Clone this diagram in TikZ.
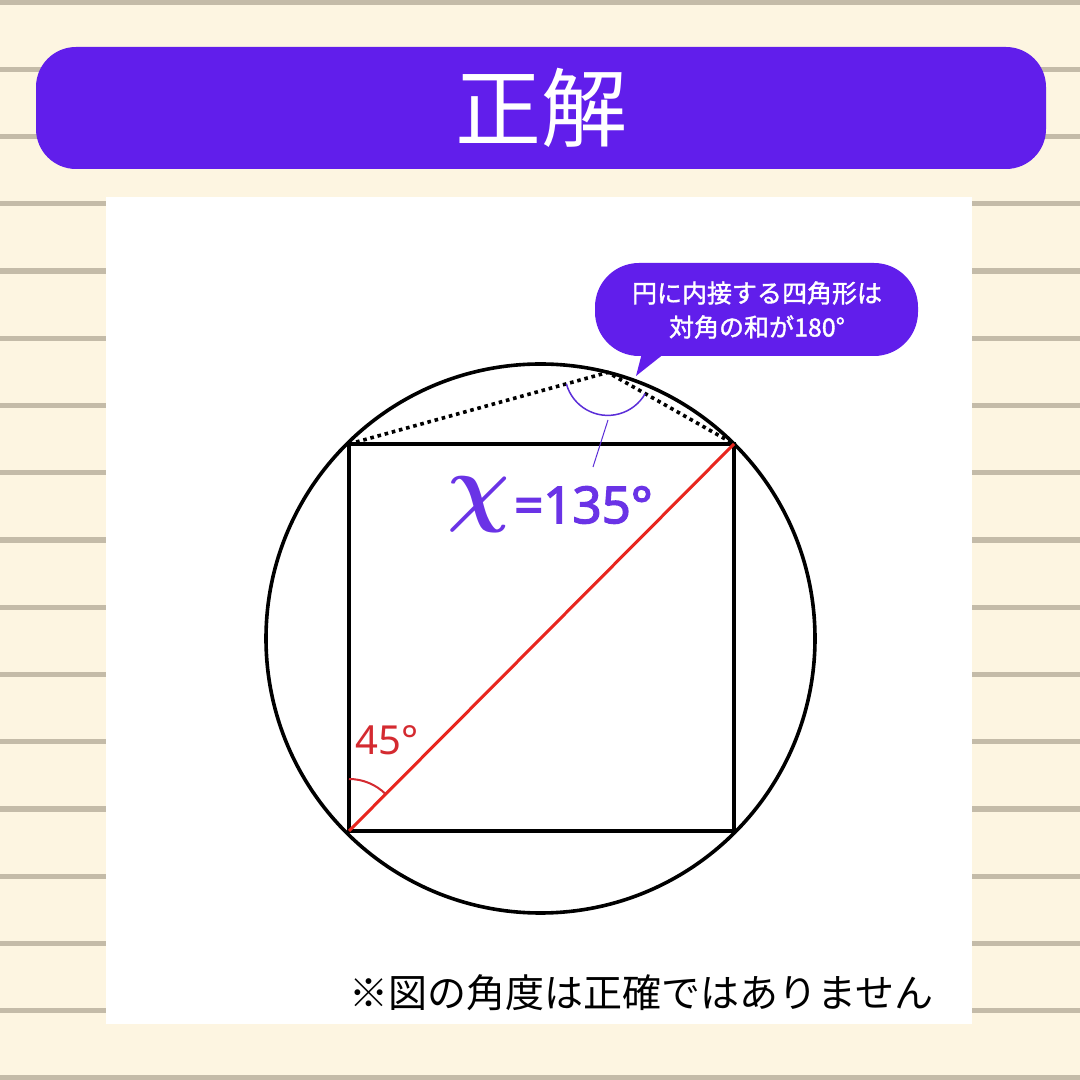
\documentclass[tikz,border=0pt]{standalone}
\usepackage{fontspec}
\newfontfamily\jp{Noto Sans CJK JP}
\newfontfamily\jpm[FakeBold=1.5]{Noto Sans CJK JP}
\newfontfamily\ns{Noto Sans}
\newfontfamily\nsb[FakeBold=2.5]{Noto Sans}
\definecolor{cream}{HTML}{FDF5E1}
\definecolor{stripe}{HTML}{C4BBA8}
\definecolor{banner}{HTML}{611EEB}
\definecolor{xpurple}{HTML}{6A33E6}
\definecolor{markpurple}{HTML}{5B2ED8}
\definecolor{redline}{HTML}{E8261E}
\definecolor{redmark}{HTML}{D42A30}
\newcommand{\chisym}{\scalebox{3.5}{\fontsize{24.88}{28}\selectfont\boldmath$\chi$}}
\tikzset{
  edge/.style={line width=3.6pt, black},
  dotline/.style={line width=3.6pt, black, dash pattern=on 3.6pt off 3.8pt},
  bubbletext/.style={text=white, font=\jpm\fontsize{25}{28}\selectfont, inner sep=0pt},
  chistyle/.style={text=xpurple, inner sep=0pt},
}
\begin{document}
\begin{tikzpicture}[x=1pt,y=1pt]
\useasboundingbox (0,0) rectangle (1080,1080);
\fill[cream] (0,0) rectangle (1080,1080);
\foreach \k in {0,...,16}{
  \fill[stripe] (0,{1078-67.25*\k-2.6}) rectangle (1080,{1078-67.25*\k+2.6});
}
% white panel
\fill[white] (106,56) rectangle (972,883);
% title banner
\fill[banner, rounded corners=40pt] (36,911) rectangle (1046,1033);
\node[text=white, font=\jp\fontsize{86}{90}\selectfont, inner sep=0pt] (title) at (541,972) {正解};
% geometry
\coordinate (O) at (540.5,441.5);
\coordinate (A) at (349,249);
\coordinate (B) at (734,249);
\coordinate (C) at (734,636);
\coordinate (D) at (349,636);
\coordinate (P) at (607.8,707.6);
\draw[edge] (O) circle[radius=274.5];
\draw[edge, line join=miter] (A) -- (B) -- (C) -- (D) -- cycle;
\draw[dotline] (D) -- (P) -- (C);
\draw[redline, line width=3pt] (A) -- (C);
% 45 degree mark
\draw[redmark, line width=2pt] ([shift={(90:52)}]A) arc[start angle=90, end angle=45, radius=52];
\node[text=redmark, font=\ns\fontsize{40}{44}\selectfont, inner sep=0pt] (a45) at (387,340) {45°};
% apex angle mark
\draw[markpurple, line width=1.5pt] ([shift={(195.5:43)}]P) arc[start angle=195.5, end angle=330.4, radius=43];
\coordinate (L1) at (608,660);
\coordinate (L2) at (593,613);
\draw[markpurple, line width=1pt] (L1) -- (L2);
\node[chistyle] (chinode) at (479,575) {\chisym};
\node[text=xpurple, font=\nsb\fontsize{51}{55}\selectfont, inner sep=0pt, anchor=west] (val) at (514,575) {=135°};
% speech bubble
\fill[banner, rounded corners=44pt] (595,724) rectangle (918,817);
\coordinate (T1) at (642,727);
\coordinate (T2) at (665,727);
\coordinate (Tip) at (636,704);
\fill[banner] (T1) -- (Tip) -- (T2) -- cycle;
\node[bubbletext] (b1) at (757,787) {円に内接する四角形は};
\node[bubbletext] (b2) at (757,753) {対角の和が180°};
% note
\node[font=\jp\fontsize{39}{42}\selectfont, inner sep=0pt, anchor=east] (note) at (934,87) {※図の角度は正確ではありません};
\end{tikzpicture}
\end{document}
